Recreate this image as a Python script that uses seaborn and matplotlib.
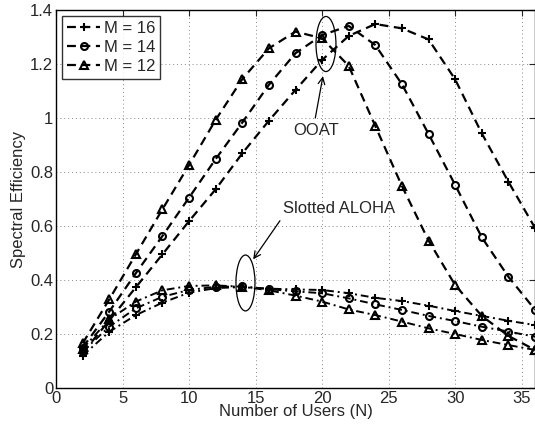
import numpy as np
import pandas as pd
import matplotlib
matplotlib.use('Agg')
import matplotlib.pyplot as plt
import seaborn as sns
from matplotlib.patches import Ellipse

# 数据
users = [2, 4, 6, 8, 10, 12, 14, 16, 18, 20, 22, 24, 26, 28, 30, 32, 34, 36]

# OOAT
ooat_m16 = [0.13, 0.25, 0.373, 0.495, 0.618, 0.736, 0.869, 0.99, 1.104, 1.215, 1.304, 1.348,
            1.332, 1.291, 1.143, 0.943, 0.764, 0.593]
ooat_m14 = [0.15, 0.283, 0.425, 0.563, 0.705, 0.848, 0.983, 1.123, 1.24, 1.307, 1.341, 1.27,
            1.125, 0.941, 0.752, 0.558, 0.412, 0.29]
ooat_m12 = [0.165, 0.328, 0.495, 0.662, 0.826, 0.993, 1.144, 1.258, 1.32, 1.295, 1.193, 0.97,
            0.748, 0.546, 0.381, 0.267, 0.193, 0.141]

# Slotted ALOHA
aloha_m16 = [0.12, 0.208, 0.27, 0.316, 0.353, 0.37, 0.374, 0.368, 0.365, 0.363, 0.351, 0.334,
             0.322, 0.305, 0.285, 0.267, 0.249, 0.233]
aloha_m14 = [0.135, 0.227, 0.295, 0.338, 0.363, 0.375, 0.376, 0.366, 0.358, 0.351, 0.332, 0.31,
             0.289, 0.267, 0.248, 0.227, 0.209, 0.19]
aloha_m12 = [0.145, 0.254, 0.32, 0.362, 0.378, 0.38, 0.375, 0.362, 0.342, 0.32, 0.291, 0.27,
             0.246, 0.221, 0.2, 0.178, 0.159, 0.141]

labels = ['M = 16', 'M = 14', 'M = 12']
markers = ['+', 'o', '^']
msizes = [5.5, 5, 6]
x_ticks = [0, 5, 10, 15, 20, 25, 30, 35]
y_ticks = [0, 0.2, 0.4, 0.6, 0.8, 1.0, 1.2, 1.4]
y_tick_labels = ['0', '0.2', '0.4', '0.6', '0.8', '1', '1.2', '1.4']

sns.set_style('white')
plt.rcParams['font.family'] = ['Liberation Sans', 'DejaVu Sans']
fs = 12

fig = plt.figure(figsize=(5.35, 4.3), dpi=100)
ax = fig.add_axes([56 / 535, 42 / 430, 479 / 535, 378 / 430])

for ys, lab, mk, ms in zip([ooat_m16, ooat_m14, ooat_m12], labels, markers, msizes):
    sns.lineplot(x=users, y=ys, ax=ax, color='black', linestyle=(0, (4, 2.5)), linewidth=1.6,
                 marker=mk, markersize=ms, markerfacecolor='none',
                 markeredgecolor='black', markeredgewidth=1.5, label=lab)

for ys, mk, ms in zip([aloha_m16, aloha_m14, aloha_m12], markers, msizes):
    sns.lineplot(x=users, y=ys, ax=ax, color='black', linestyle=(0, (4, 2, 1, 2)), linewidth=1.4,
                 marker=mk, markersize=ms, markerfacecolor='none',
                 markeredgecolor='black', markeredgewidth=1.5, legend=False)

ax.set_xlim(0, 36)
ax.set_ylim(0, 1.4)
ax.set_xticks(x_ticks)
ax.set_yticks(y_ticks)
ax.set_yticklabels(y_tick_labels)
ax.tick_params(direction='in', length=4, width=0.8, labelsize=fs, top=True, right=True, pad=2)
ax.grid(True, linestyle=(0, (1, 3)), color='#888888', linewidth=0.7)
for s in ax.spines.values():
    s.set_color('black')
    s.set_linewidth(1.0)

ax.set_xlabel('Number of Users (N)', fontsize=fs, labelpad=-1)
ax.set_ylabel('Spectral Efficiency', fontsize=fs, labelpad=3)

# 注释
ax.add_patch(Ellipse((20.29, 1.274), 1.5, 0.204, fill=False, edgecolor='black', linewidth=0.9, zorder=5))
ax.annotate('', xy=(20.1, 1.165), xytext=(19.45, 0.99),
            arrowprops=dict(arrowstyle='->', color='black', lw=0.9, mutation_scale=12))
ax.text(19.55, 0.952, 'OOAT', fontsize=fs, ha='center', va='center')

ax.add_patch(Ellipse((14.24, 0.389), 1.43, 0.207, fill=False, edgecolor='black', linewidth=0.9, zorder=5))
ax.annotate('', xy=(14.7, 0.468), xytext=(16.95, 0.628),
            arrowprops=dict(arrowstyle='->', color='black', lw=0.9, mutation_scale=12))
ax.text(21.25, 0.663, 'Slotted ALOHA', fontsize=fs, ha='center', va='center')

leg = ax.legend(loc='upper left', fontsize=fs, frameon=True, fancybox=False, handlelength=2.0,
                handletextpad=0.2, borderpad=0.3, labelspacing=0.25, borderaxespad=0.35)
leg.get_frame().set_edgecolor('black')
leg.get_frame().set_linewidth(1.0)

plt.savefig('out.png', dpi=100)
